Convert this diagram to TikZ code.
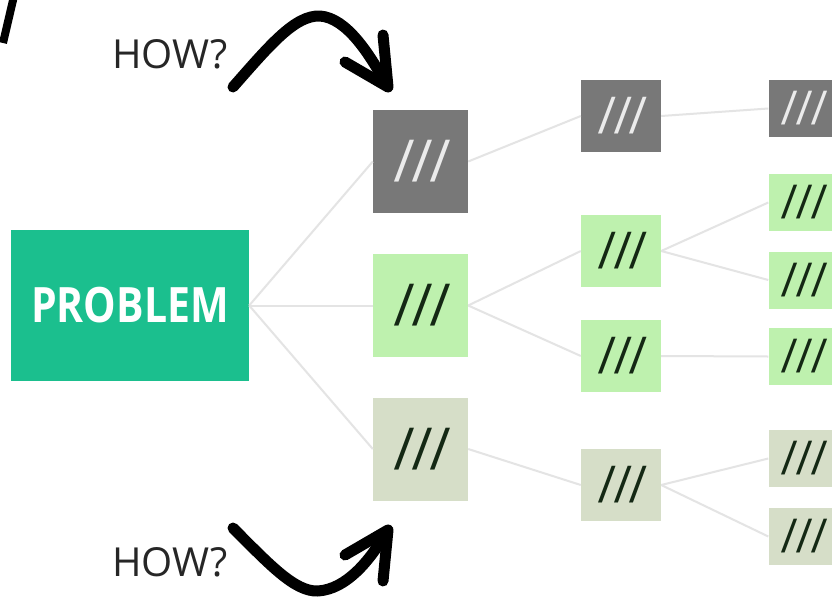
\documentclass[tikz,border=0pt]{standalone}
\usepackage{fontspec}
\setmainfont{Open Sans}
\newfontfamily\slashfont{Liberation Sans}[FakeSlant=0.1]
\definecolor{teal1}{RGB}{27,191,142}
\definecolor{gbox}{RGB}{120,120,120}
\definecolor{lgreen}{RGB}{190,241,174}
\definecolor{sage}{RGB}{214,222,200}
\definecolor{conn}{RGB}{228,228,228}
\definecolor{slashdark}{RGB}{20,40,20}
\definecolor{slashlight}{RGB}{235,235,235}
\newcommand{\myslashes}{/\kern2pt/\kern2pt/}
\tikzset{
  box/.style={inner sep=0pt},
  graybox/.style={box, fill=gbox, text=slashlight},
  greenbox/.style={box, fill=lgreen, text=slashdark},
  sagebox/.style={box, fill=sage, text=slashdark},
  c1/.style={minimum width=95pt, minimum height=103pt, font=\slashfont\fontsize{57}{57}\selectfont},
  c2/.style={minimum width=80pt, minimum height=72pt, font=\slashfont\fontsize{50}{50}\selectfont},
  c3/.style={minimum width=69pt, minimum height=57pt, font=\slashfont\fontsize{46}{46}\selectfont},
  conline/.style={draw=conn, line width=2pt},
  bigarrow/.style={draw=black, line width=11pt, line cap=round, line join=round},
  howtext/.style={text=black!85, font=\fontsize{40}{40}\selectfont, inner sep=0pt}
}
\begin{document}
\begin{tikzpicture}[x=1pt,y=-1pt]
\useasboundingbox (0,0) rectangle (832,597);
\fill[white] (0,0) rectangle (832,597);
\begin{scope}
\clip (0,0) rectangle (832,597);
% nodes
\node[fill=teal1, minimum width=238pt, minimum height=151pt, inner sep=0pt, text=white, font=\bfseries\fontsize{39}{39}\selectfont] (prob) at (130,305.5) {\scalebox{1.05}[1.25]{PROBLEM}};

\node[graybox,c1] (a1) at (420.5,161.5) {\myslashes};
\node[greenbox,c1] (a2) at (420.5,305.5) {\myslashes};
\node[sagebox,c1] (a3) at (420.5,449) {\myslashes};

\node[graybox,c2] (b1) at (621,116) {\myslashes};
\node[greenbox,c2] (b2) at (621,251) {\myslashes};
\node[greenbox,c2] (b3) at (621,356) {\myslashes};
\node[sagebox,c2] (b4) at (621,485) {\myslashes};

\node[graybox,c3] (d1) at (803,108.5) {\myslashes};
\node[greenbox,c3] (d2) at (803,202.5) {\myslashes};
\node[greenbox,c3] (d3) at (803,280) {\myslashes};
\node[greenbox,c3] (d4) at (803,356.5) {\myslashes};
\node[sagebox,c3] (d5) at (803,458.5) {\myslashes};
\node[sagebox,c3] (d6) at (803,536.5) {\myslashes};

% connectors
\draw[conline] (prob.east) -- (a1.west);
\draw[conline] (prob.east) -- (a2.west);
\draw[conline] (prob.east) -- (a3.west);
\draw[conline] (a1.east) -- (b1.west);
\draw[conline] (a2.east) -- (b2.west);
\draw[conline] (a2.east) -- (b3.west);
\draw[conline] (a3.east) -- (b4.west);
\draw[conline] (b1.east) -- (d1.west);
\draw[conline] (b2.east) -- (d2.west);
\draw[conline] (b2.east) -- (d3.west);
\draw[conline] (b3.east) -- (d4.west);
\draw[conline] (b4.east) -- (d5.west);
\draw[conline] (b4.east) -- (d6.west);

% HOW? labels
\node[howtext] (how1) at (170,54) {HOW?};
\node[howtext] (how2) at (170,562) {HOW?};

% curved arrows
\draw[bigarrow] (233,87) .. controls (270,45) and (295,15) .. (320,16) .. controls (347,18) and (370,55) .. (386,84);
\draw[bigarrow] (345,62) -- (388,87) -- (383,35);
\draw[bigarrow] (233,528) .. controls (270,565) and (295,592) .. (318,591) .. controls (347,589) and (370,560) .. (386,533);
\draw[bigarrow] (345,555) -- (388,530) -- (383,581);

% cropped stroke top-left
\draw[black, line width=8pt] (14,-4) -- (3,43);
\end{scope}
\end{tikzpicture}
\end{document}
